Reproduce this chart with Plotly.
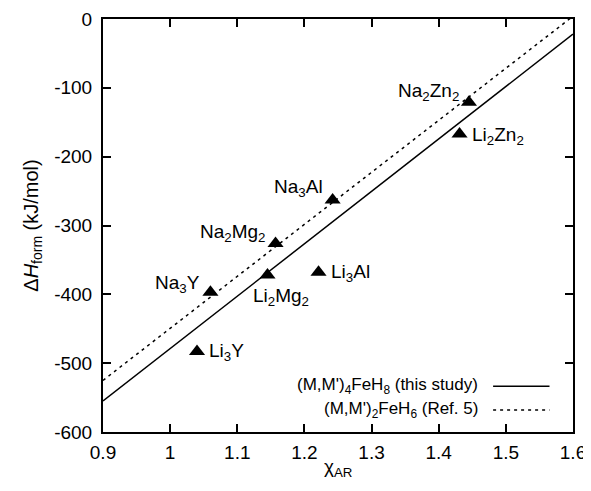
import plotly.graph_objects as go

# data
compounds = ["Na<sub>2</sub>Zn<sub>2</sub>", "Li<sub>2</sub>Zn<sub>2</sub>", "Na<sub>3</sub>Al",
             "Na<sub>2</sub>Mg<sub>2</sub>", "Li<sub>2</sub>Mg<sub>2</sub>", "Li<sub>3</sub>Al",
             "Na<sub>3</sub>Y", "Li<sub>3</sub>Y"]
chi_ar = [1.445, 1.431, 1.242, 1.157, 1.145, 1.221, 1.060, 1.040]
dh_form = [-121, -167, -263, -326, -372, -368, -397, -483]

fit_x = [0.9, 1.6]
fit_this_study = [-555, -22]
fit_ref5 = [-525, 4]

x_ticks = [0.9, 1.0, 1.1, 1.2, 1.3, 1.4, 1.5, 1.6]
x_ticklabels = ["0.9", "1", "1.1", "1.2", "1.3", "1.4", "1.5", "1.6"]
y_ticks = [0, -100, -200, -300, -400, -500, -600]
y_ticklabels = ["0", "-100", "-200", "-300", "-400", "-500", "-600"]

x_title = "χ<sub>AR</sub>"
y_title = "Δ<i>H</i><sub>form</sub> (kJ/mol)"

legend_labels = ["(M,M')<sub>4</sub>FeH<sub>8</sub> (this study)", "(M,M')<sub>2</sub>FeH<sub>6</sub> (Ref. 5)"]

# label placement (pixel offsets, xanchor)
label_style = [(-8, 10, "right"), (10, -2, "left"), (-8, 12, "right"), (-8, 10, "right"),
               (-17, -22, "left"), (10, -1, "left"), (-8, 8, "right"), (10, -1, "left")]

FONT = "Liberation Sans, Arial, Helvetica, sans-serif"
SHORT_DASH = "3px,4px"

fig = go.Figure()
fig.add_trace(go.Scatter(x=fit_x, y=fit_this_study, mode="lines",
                         line=dict(color="black", width=1.5), showlegend=False))
fig.add_trace(go.Scatter(x=fit_x, y=fit_ref5, mode="lines",
                         line=dict(color="black", width=1.5, dash=SHORT_DASH), showlegend=False))
fig.add_trace(go.Scatter(x=chi_ar, y=dh_form, mode="markers",
                         marker=dict(symbol="triangle-up", size=14, color="black"),
                         showlegend=False))

for name, xv, yv, (xs, ys, xa) in zip(compounds, chi_ar, dh_form, label_style):
    fig.add_annotation(x=xv, y=yv, text=name, showarrow=False, xanchor=xa, yanchor="middle",
                       xshift=xs, yshift=ys, font=dict(size=19, color="black", family=FONT))

# custom legend: text right-aligned, line sample to the right
leg_y = [0.111, 0.053]
dashes = ["solid", SHORT_DASH]
for lbl, ly, d in zip(legend_labels, leg_y, dashes):
    fig.add_annotation(xref="paper", yref="paper", x=0.802, y=ly, text=lbl, showarrow=False,
                       xanchor="right", yanchor="middle",
                       font=dict(size=17, color="black", family=FONT))
    fig.add_shape(type="line", xref="paper", yref="paper", x0=0.83, x1=0.95, y0=ly, y1=ly,
                  line=dict(color="black", width=1.5, dash=d))

# x-axis title as a paper-anchored annotation for exact placement
fig.add_annotation(xref="paper", yref="paper", x=0.5, y=-0.088, text=x_title, showarrow=False,
                   xanchor="center", yanchor="middle",
                   font=dict(size=19, color="black", family=FONT))

axis_common = dict(showline=True, linecolor="black", linewidth=2, mirror="ticks",
                   ticks="inside", ticklen=8, tickwidth=1.5, tickcolor="black",
                   showgrid=False, zeroline=False, automargin=False,
                   tickfont=dict(size=19, color="black", family=FONT))

fig.update_xaxes(range=[0.9, 1.6], tickvals=x_ticks, ticktext=x_ticklabels, ticklabelstandoff=2,
                 **axis_common)
fig.update_yaxes(range=[-600, 0], tickvals=y_ticks, ticktext=y_ticklabels, ticklabelstandoff=5,
                 title=dict(text=y_title, font=dict(size=20, color="black", family=FONT), standoff=10),
                 **axis_common)

# page body has an 8px margin; compensate so the plot box sits where the reference's does
fig.update_layout(width=583, height=483, margin=dict(l=95, r=18, t=11, b=59),
                  plot_bgcolor="white", paper_bgcolor="white",
                  font=dict(family=FONT, color="black"))

fig.write_html("out.html")
